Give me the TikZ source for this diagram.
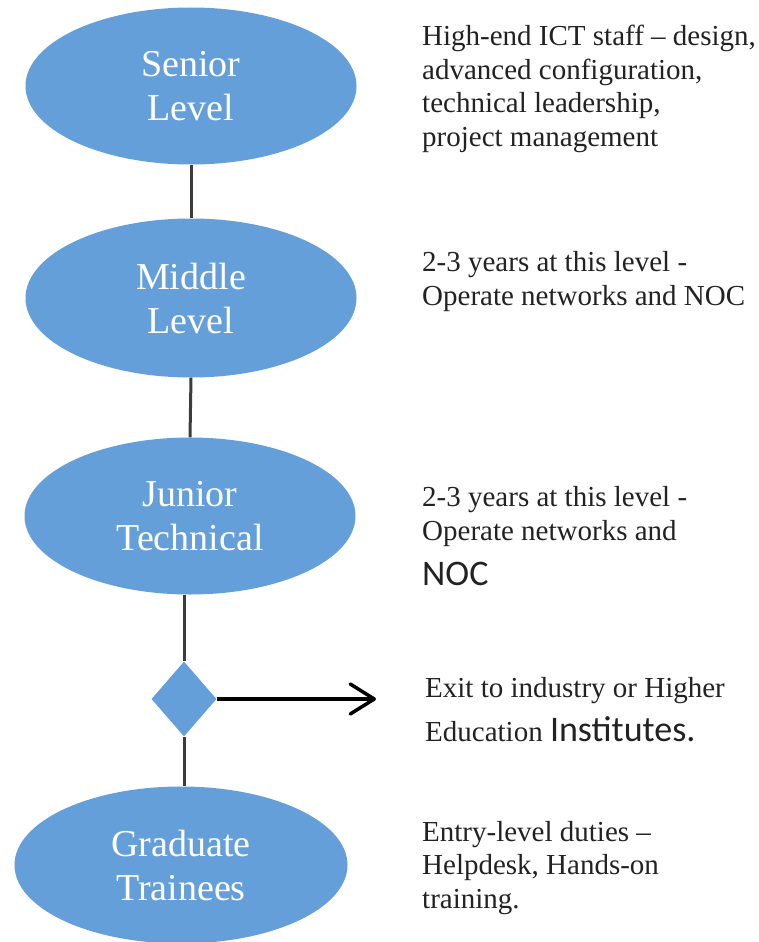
\documentclass[tikz,border=0pt]{standalone}
\usepackage{fontspec}
\setmainfont{Liberation Serif}
\newfontfamily\carl{Carlito}
\usetikzlibrary{shapes.geometric,arrows.meta}
\definecolor{ellblue}{HTML}{659FDA}
\definecolor{linegray}{HTML}{3C3C3C}
\definecolor{txtcol}{HTML}{222222}
\tikzset{
  lvl/.style={ellipse, fill=ellblue, minimum width=331pt, minimum height=157pt,
    inner sep=0pt, text=white, align=center, font=\fontsize{38}{44}\selectfont},
  desc/.style={anchor=base west, inner sep=0pt, align=left, text=txtcol,
    font=\fontsize{29}{33.5}\selectfont},
  link/.style={draw=linegray, line width=3pt},
}
\newcommand{\bigsf}[1]{{\carl\fontsize{36}{40}\selectfont #1}}
\begin{document}
\begin{tikzpicture}[x=1pt,y=-1pt]
\useasboundingbox (0,0) rectangle (759,942);
% levels
\node[lvl] (sen) at (191,86) {Senior\\Level};
\node[lvl, minimum height=159pt] (mid) at (191,298) {Middle\\Level};
\node[lvl] (jun) at (190,516) {Junior\\Technical};
\node[lvl, minimum width=333pt] (grad) at (181,865) {Graduate\\Trainees};
\node[diamond, fill=ellblue, minimum width=65pt, minimum height=75pt, inner sep=0pt] (dia) at (184,699) {};
\coordinate (exitpt) at (376,699);
% connectors
\draw[link] (sen.south) -- (mid.north);
\draw[link] (mid.south) -- (jun.north);
\draw[link] (jun.south -| dia.north) -- (dia.north);
\draw[link] (dia.south) -- (grad.north -| dia.south);
\draw[draw=black, line width=3.5pt, -{Straight Barb[length=24pt,width=30pt,round]}] (dia.east) -- (exitpt);
% descriptions (anchored at the baseline of their last line)
\node[desc] (tsen) at (422,146) {High-end ICT staff -- design,\\advanced configuration,\\technical leadership,\\project management};
\node[desc] (tmid) at (422,305) {2-3 years at this level -\\Operate networks and NOC};
\node[desc] (tjun) at (422,585) {2-3 years at this level -\\Operate networks and\\[11.5pt]\bigsf{NOC}};
\node[desc] (texit) at (425,741) {Exit to industry or Higher\\[10.5pt]Education \bigsf{Institutes.}};
\node[desc] (tgrad) at (422,908) {Entry-level duties --\\Helpdesk, Hands-on\\training.};
\end{tikzpicture}
\end{document}
